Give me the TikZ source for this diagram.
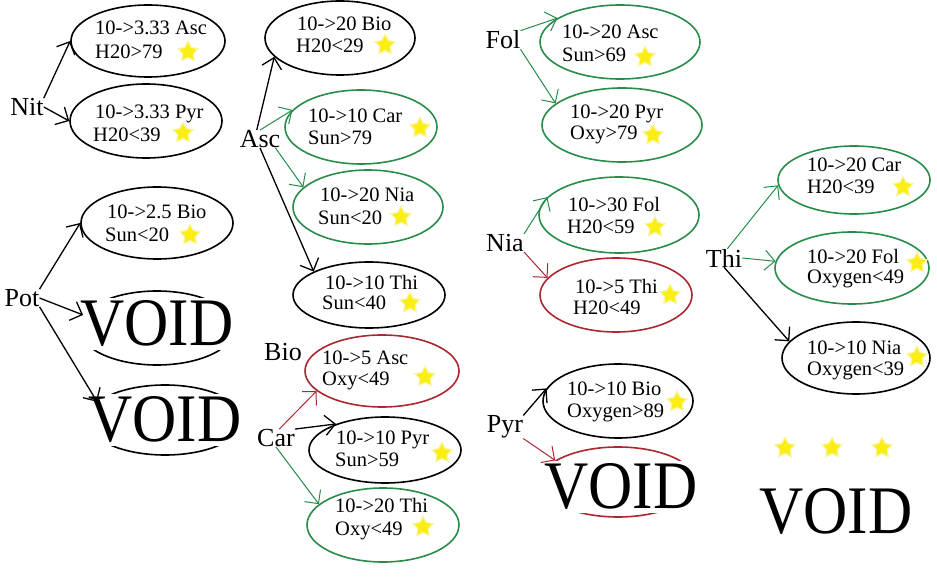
\documentclass[tikz,border=0pt]{standalone}
\usepackage{fontspec}
\setmainfont{Liberation Serif}
\usetikzlibrary{shapes.geometric,arrows.meta}
\definecolor{gr}{RGB}{40,140,75}
\definecolor{rd}{RGB}{170,40,50}
\definecolor{sy}{RGB}{250,238,20}
\definecolor{sb}{RGB}{250,245,160}
\begin{document}
\begin{tikzpicture}[x=1pt,y=-1pt,
 ell/.style={ellipse, draw, line width=1.6pt, inner sep=0pt},
 lbl/.style={font=\fontsize{26}{28}\selectfont, inner sep=0pt},
 tx/.style={font=\fontsize{20.5}{22}\selectfont, inner sep=0pt, anchor=base west},
 sstar/.style={star, star points=5, star point ratio=1.9, fill=sy, draw=sb, line width=1.2pt, minimum size=21pt, inner sep=0pt},
 arr/.style={-{Straight Barb[length=10pt,width=20pt]}, line width=1.3pt},
 garr/.style={arr, draw=gr, line width=1pt},
 rarr/.style={arr, draw=rd, line width=1pt},
 void/.style={font=\fontsize{68}{70}\selectfont, fill=white, inner xsep=9pt, inner ysep=3pt},
]
\useasboundingbox[fill=white] (0,0) rectangle (937,577);

% ---------- column 1 ----------
\node[lbl] (nit) at (27,107) {Nit};
\node[lbl] (pot) at (22,298) {Pot};

\node[ell, minimum width=154pt, minimum height=72pt] (e1) at (148,41) {};
\node[tx] (e1a) at (95,35) {10->3.33 Asc};
\node[tx] (e1b) at (95,59) {H20>79};
\node[sstar] (e1s) at (188,52) {};

\node[ell, minimum width=152pt, minimum height=74pt] (e2) at (146,121) {};
\node[tx] (e2a) at (95,119) {10->3.33 Pyr};
\node[tx] (e2b) at (93,142) {H20<39};
\node[sstar] (e2s) at (183,133) {};

\node[ell, minimum width=152pt, minimum height=72pt] (e3) at (157,223) {};
\node[tx] (e3a) at (107,219) {10->2.5 Bio};
\node[tx] (e3b) at (105,242) {Sun<20};
\node[sstar] (e3s) at (190,235) {};

\node[ell, minimum width=156pt, minimum height=74pt] (v1e) at (157,328) {};
\node[void] (v1) at (157,324) {\scalebox{0.9}[1]{VOID}};

\node[ell, minimum width=156pt, minimum height=70pt] (v2e) at (165,420) {};
\node[void] (v2) at (165,420) {\scalebox{0.9}[1]{VOID}};

% ---------- column 2 ----------
\node[lbl] (asc) at (260,139) {Asc};
\node[lbl] (bio) at (283,352) {Bio};
\node[lbl] (car) at (276,438) {Car};

\node[ell, minimum width=150pt, minimum height=74pt] (e4) at (340,38) {};
\node[tx] (e4a) at (297,31) {10->20 Bio};
\node[tx] (e4b) at (296,53) {H20<29};
\node[sstar] (e4s) at (385,45) {};

\node[ell, draw=gr, minimum width=152pt, minimum height=74pt] (e5) at (361,127) {};
\node[tx] (e5a) at (308,123) {10->10 Car};
\node[tx] (e5b) at (308,145) {Sun>79};
\node[sstar] (e5s) at (420,128) {};

\node[ell, draw=gr, minimum width=150pt, minimum height=74pt] (e6) at (368,207) {};
\node[tx] (e6a) at (320,202) {10->20 Nia};
\node[tx] (e6b) at (318,225) {Sun<20};
\node[sstar] (e6s) at (401,217) {};

\node[ell, minimum width=152pt, minimum height=66pt] (e7) at (369,295) {};
\node[tx] (e7a) at (325,290) {10->10 Thi};
\node[tx] (e7b) at (322,310) {Sun<40};
\node[sstar] (e7s) at (410,303) {};

\node[ell, draw=rd, minimum width=154pt, minimum height=72pt] (e8) at (382,371) {};
\node[tx] (e8a) at (322,364) {10->5 Asc};
\node[tx] (e8b) at (322,385) {Oxy<49};
\node[sstar] (e8s) at (425,377) {};

\node[ell, minimum width=152pt, minimum height=66pt] (e9) at (385,450) {};
\node[tx] (e9a) at (336,444) {10->10 Pyr};
\node[tx] (e9b) at (335,466) {Sun>59};
\node[sstar] (e9s) at (442,453) {};

\node[ell, draw=gr, minimum width=152pt, minimum height=74pt] (e10) at (383,525) {};
\node[tx] (e10a) at (335,512) {10->20 Thi};
\node[tx] (e10b) at (335,535) {Oxy<49};
\node[sstar] (e10s) at (423,527) {};

% ---------- column 3 ----------
\node[lbl] (fol) at (503,40) {Fol};
\node[lbl] (nia) at (505,243) {Nia};
\node[lbl] (pyr) at (505,427) {Pyr};

\node[ell, draw=gr, minimum width=160pt, minimum height=74pt] (e11) at (620,42) {};
\node[tx] (e11a) at (562,39) {10->20 Asc};
\node[tx] (e11b) at (562,62) {Sun>69};
\node[sstar] (e11s) at (645,57) {};

\node[ell, draw=gr, minimum width=160pt, minimum height=74pt] (e12) at (622,125) {};
\node[tx] (e12a) at (570,119) {10->20 Pyr};
\node[tx] (e12b) at (570,140) {Oxy>79};
\node[sstar] (e12s) at (653,135) {};

\node[ell, draw=gr, minimum width=160pt, minimum height=76pt] (e13) at (619,215) {};
\node[tx] (e13a) at (568,212) {10->30 Fol};
\node[tx] (e13b) at (567,234) {H20<59};
\node[sstar] (e13s) at (655,227) {};

\node[ell, draw=rd, minimum width=152pt, minimum height=74pt] (e14) at (616,295) {};
\node[tx] (e14a) at (575,294) {10->5 Thi};
\node[tx] (e14b) at (573,315) {H20<49};
\node[sstar] (e14s) at (670,295) {};

\node[ell, minimum width=150pt, minimum height=74pt] (e15) at (618,401) {};
\node[tx] (e15a) at (567,395) {10->10 Bio};
\node[tx] (e15b) at (567,417) {Oxygen>89};
\node[sstar] (e15s) at (677,402) {};

\node[ell, draw=rd, minimum width=156pt, minimum height=70pt] (v3e) at (618,482) {};
\node[void] (v3) at (621,487) {\scalebox{0.9}[1]{VOID}};

% ---------- column 4 ----------
\node[lbl] (thi) at (724,258) {Thi};

\node[ell, draw=gr, minimum width=152pt, minimum height=68pt] (e16) at (854,180) {};
\node[tx] (e16a) at (807,172) {10->20 Car};
\node[tx] (e16b) at (807,194) {H20<39};
\node[sstar] (e16s) at (903,187) {};

\node[ell, draw=gr, minimum width=154pt, minimum height=72pt] (e17) at (852,268) {};
\node[tx] (e17a) at (807,264) {10->20 Fol};
\node[tx] (e17b) at (807,284) {Oxygen<49};
\node[sstar] (e17s) at (917,263) {};

\node[ell, minimum width=148pt, minimum height=72pt] (e18) at (856,358) {};
\node[tx] (e18a) at (807,354) {10->10 Nia};
\node[tx] (e18b) at (807,375) {Oxygen<39};
\node[sstar] (e18s) at (917,357) {};

\node[sstar] (s1) at (785,448) {};
\node[sstar] (s2) at (832,448) {};
\node[sstar] (s3) at (882,448) {};
\node[font=\fontsize{68}{70}\selectfont, inner sep=1pt] (v4) at (836,512) {\scalebox{0.9}[1]{VOID}};

% ---------- connectors ----------
\draw[arr] (nit.north east) -- (e1.west);
\draw[arr] (nit.east) -- (e2.west);
\draw[arr] (pot.north east) -- (e3.west);
\draw[arr] (pot.east) -- (v1e.170);
\draw[arr] (pot.south east) -- (v2e.165);

\draw[arr] (asc.110) -- (e4.196);
\draw[garr] (asc.north) -- (e5.166);
\draw[garr] (asc.-30) -- (e6.163);
\draw[arr] (asc.south) -- (e7.157);

\draw[rarr] (car.70) -- (e8.197);
\draw[arr] (car.north east) -- (e9.152);
\draw[garr] (car.south) -- (e10.162);

\draw[garr] (fol.north east) -- (e11.159);
\draw[garr] (fol.south east) -- (e12.162);
\draw[garr] (nia.north east) -- (e13.166);
\draw[rarr] (nia.south east) -- (e14.166);
\draw[arr] (pyr.north east) -- (e15.170);
\draw[rarr] (pyr.south east) -- (v3e.161);

\draw[garr] (thi.70) -- (e16.184);
\draw[garr] (thi.east) -- (e17.175);
\draw[arr] (thi.south) -- (e18.166);
\end{tikzpicture}
\end{document}
